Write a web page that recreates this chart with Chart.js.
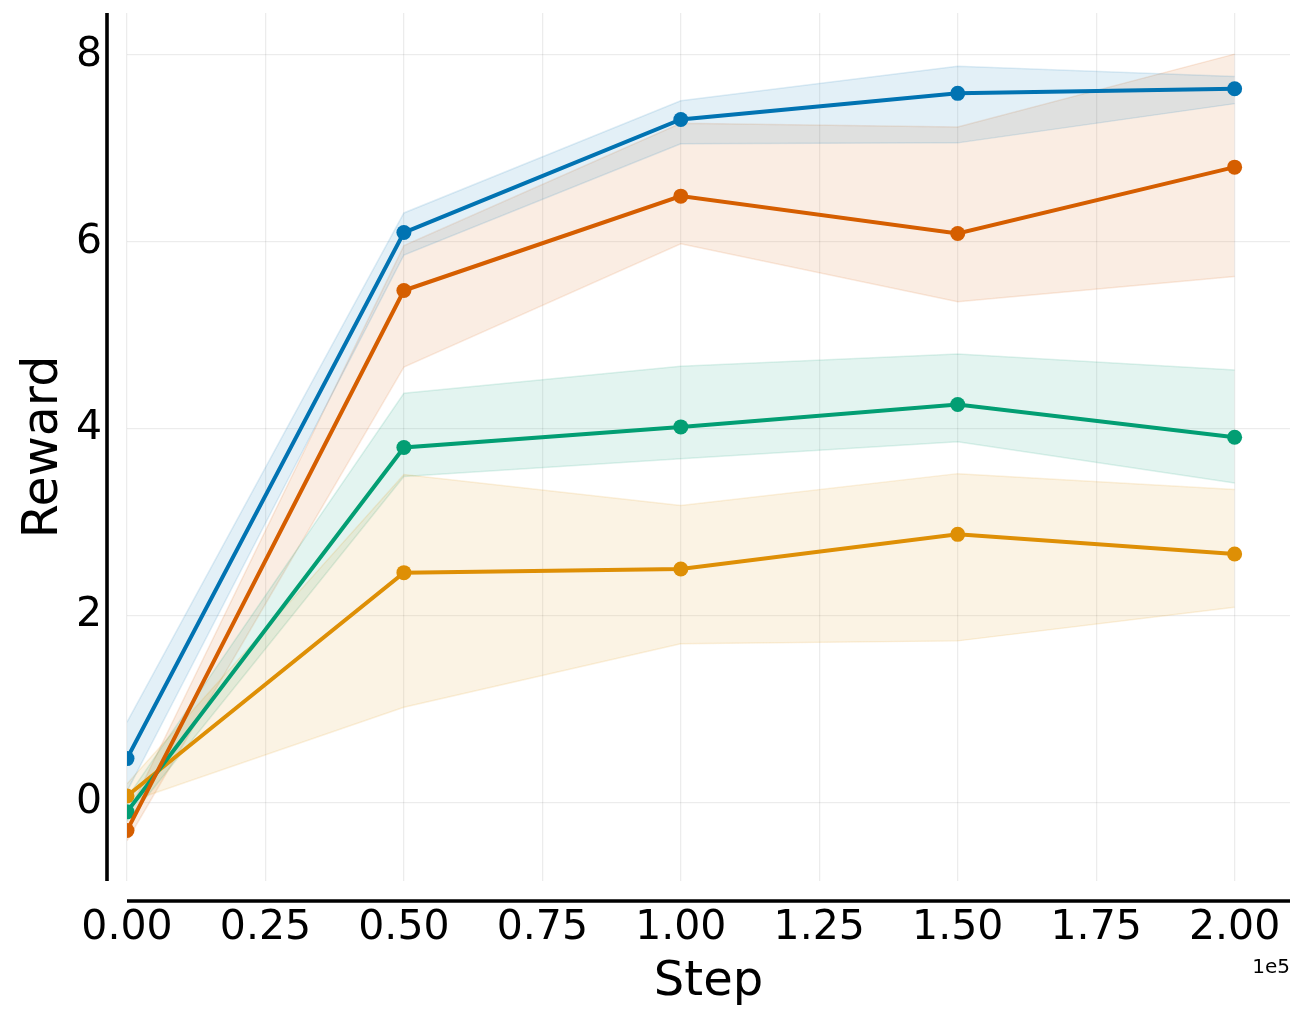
<!DOCTYPE html>
<html><head><meta charset="utf-8">
<script src="https://cdn.jsdelivr.net/npm/chart.js@4.4.1/dist/chart.umd.min.js"></script>
<style>html,body{margin:0;padding:0;background:#fff}</style>
</head><body>
<canvas id="c" width="1305" height="1024"></canvas>
<script>
// ---- data ----
const steps = [0, 50000, 100000, 150000, 200000];

const blueMean = [0.47, 6.10, 7.31, 7.59, 7.64];
const blueLow  = [0.12, 5.86, 7.05, 7.06, 7.48];
const blueHigh = [0.86, 6.31, 7.51, 7.88, 7.77];

const orangeMean = [0.07, 2.46, 2.50, 2.87, 2.66];
const orangeLow  = [0.00, 1.02, 1.70, 1.73, 2.09];
const orangeHigh = [0.20, 3.51, 3.18, 3.52, 3.35];

const greenMean = [-0.10, 3.80, 4.02, 4.26, 3.91];
const greenLow  = [-0.20, 3.49, 3.68, 3.86, 3.42];
const greenHigh = [0.05, 4.38, 4.67, 4.80, 4.63];

const redMean = [-0.30, 5.48, 6.49, 6.09, 6.80];
const redLow  = [-0.41, 4.66, 5.98, 5.36, 5.63];
const redHigh = [-0.14, 5.96, 7.27, 7.23, 8.01];

const xTickValues = [0, 25000, 50000, 75000, 100000, 125000, 150000, 175000, 200000];
const yTickValues = [0, 2, 4, 6, 8];

// ---- styles ----
const series = [
  {name: 'red', rgb: [213, 94, 0], mean: redMean, low: redLow, high: redHigh},
  {name: 'green', rgb: [2, 158, 115], mean: greenMean, low: greenLow, high: greenHigh},
  {name: 'orange', rgb: [222, 143, 5], mean: orangeMean, low: orangeLow, high: orangeHigh},
  {name: 'blue', rgb: [1, 115, 178], mean: blueMean, low: blueLow, high: blueHigh},
];
const rgba = (c, a) => `rgba(${c[0]},${c[1]},${c[2]},${a})`;
const pts = arr => steps.map((s, i) => ({x: s, y: arr[i]}));
const clip0 = {left: 0, top: 0, right: 0, bottom: 0};

const datasets = [];
series.forEach((s, k) => {
  datasets.push({
    label: s.name,
    data: pts(s.mean),
    borderColor: rgba(s.rgb, 1),
    backgroundColor: rgba(s.rgb, 1),
    borderWidth: 4,
    pointRadius: 7.5,
    pointBorderWidth: 0,
    pointBackgroundColor: rgba(s.rgb, 1),
    fill: false,
    tension: 0,
    clip: clip0,
    order: k,
  });
});
series.forEach((s, k) => {
  const lowIndex = datasets.length;
  datasets.push({
    label: s.name + ' low',
    data: pts(s.low),
    borderColor: rgba(s.rgb, 0.13),
    borderWidth: 1.5,
    pointRadius: 0,
    fill: false,
    tension: 0,
    clip: clip0,
    order: 20 + 2 * (3 - k),
  });
  datasets.push({
    label: s.name + ' high',
    data: pts(s.high),
    borderColor: rgba(s.rgb, 0.13),
    backgroundColor: rgba(s.rgb, 0.11),
    borderWidth: 1.5,
    pointRadius: 0,
    fill: {target: lowIndex},
    tension: 0,
    clip: clip0,
    order: 20 + 2 * (3 - k) + 1,
  });
});

const FONT = "'DejaVu Sans', sans-serif";
const gridColor = 'rgba(0,0,0,0.075)';

const spinePlugin = {
  id: 'spines',
  afterDraw(chart) {
    const {ctx, chartArea: a} = chart;
    ctx.save();
    ctx.strokeStyle = '#000';
    ctx.lineWidth = 3.6;
    ctx.lineCap = 'butt';
    ctx.beginPath();
    ctx.moveTo(a.left - 20, a.top);
    ctx.lineTo(a.left - 20, a.bottom);
    ctx.stroke();
    ctx.beginPath();
    ctx.moveTo(a.left, a.bottom + 20);
    ctx.lineTo(a.right, a.bottom + 20);
    ctx.stroke();
    ctx.fillStyle = '#000';
    ctx.font = "20px " + FONT;
    ctx.textAlign = 'right';
    ctx.textBaseline = 'alphabetic';
    ctx.fillText('1e5', a.right, 973);
    ctx.restore();
  }
};

function zeroPad(s) { s.paddingTop = 0; s.paddingBottom = 0; s.paddingLeft = 0; s.paddingRight = 0; }

new Chart(document.getElementById('c'), {
  type: 'line',
  data: {datasets},
  options: {
    responsive: false,
    devicePixelRatio: 1,
    animation: false,
    layout: {padding: {left: 0, right: 15, top: 13, bottom: 0}},
    plugins: {legend: {display: false}, tooltip: {enabled: false}, filler: {propagate: false}},
    scales: {
      x: {
        type: 'linear',
        min: 0,
        max: 210000,
        afterFit: s => { s.height = 143; zeroPad(s); },
        afterBuildTicks: s => { s.ticks = xTickValues.map(v => ({value: v})); },
        ticks: {
          font: {family: FONT, size: 41},
          color: '#000',
          padding: 23,
          maxRotation: 0,
          autoSkip: false,
          callback: v => (v / 1e5).toFixed(2),
        },
        grid: {color: gridColor, lineWidth: 1.3, drawTicks: false},
        border: {display: false},
        title: {display: true, text: 'Step', color: '#000', font: {family: FONT, size: 48}, padding: {top: 0, bottom: 13}},
      },
      y: {
        type: 'linear',
        min: -0.84,
        max: 8.45,
        afterFit: s => { s.width = 127; zeroPad(s); },
        afterBuildTicks: s => { s.ticks = yTickValues.map(v => ({value: v})); },
        ticks: {
          font: {family: FONT, size: 41},
          color: '#000',
          padding: 25,
          autoSkip: false,
          callback: v => String(v),
        },
        grid: {color: gridColor, lineWidth: 1.3, drawTicks: false},
        border: {display: false},
        title: {display: true, text: 'Reward', color: '#000', font: {family: FONT, size: 49}, padding: {top: 15, bottom: 0}},
      }
    }
  },
  plugins: [spinePlugin]
});
</script>
</body></html>
